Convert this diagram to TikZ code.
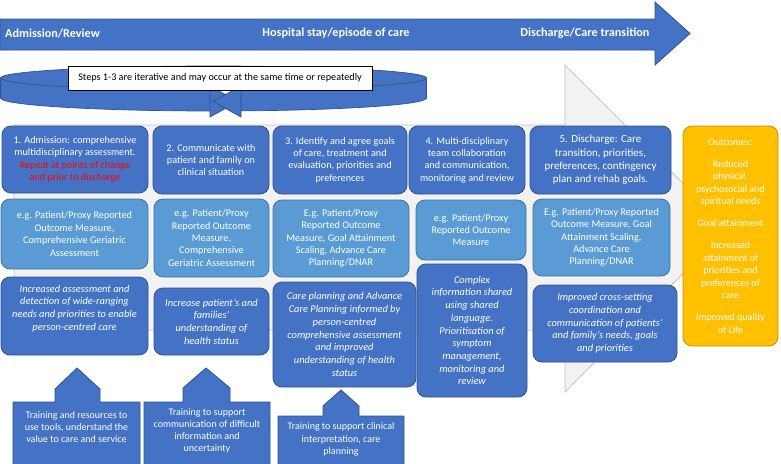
\documentclass[tikz,border=0pt]{standalone}
\usepackage{fontspec}
\setmainfont{Carlito}
\definecolor{cblue}{HTML}{4472C4}
\definecolor{cblueb}{HTML}{2F528F}
\definecolor{clight}{HTML}{5B9BD5}
\definecolor{clightb}{HTML}{41719C}
\definecolor{cgold}{HTML}{FFC000}
\definecolor{cgoldb}{HTML}{BF9000}
\definecolor{cgray}{HTML}{F2F2F2}
\definecolor{cgrayb}{HTML}{BFBFBF}
\definecolor{cred}{HTML}{FF0000}
\begin{document}
\begin{tikzpicture}[x=1pt,y=-1pt,
  base/.style={rounded corners=9pt, line width=0.8pt, text=white, align=center, inner sep=0pt,
    font=\fontsize{10.2}{12.4}\selectfont},
  sz/.style 2 args={minimum width=#1pt, minimum height=#2pt},
  dark/.style={base, fill=cblue, draw=cblueb},
  light/.style={base, fill=clight, draw=clightb},
  ital/.style={dark, font=\fontsize{10.4}{12.7}\selectfont\itshape},
  gold/.style={base, fill=cgold, draw=cgoldb},
  arrtxt/.style={text=white, inner sep=0pt, font=\fontsize{12.2}{14}\selectfont\bfseries},
  callout/.style={fill=cblue, draw=cblueb, line width=0.8pt},
  ctxt/.style={text=white, align=center, inner sep=0pt, font=\fontsize{10}{12.2}\selectfont},
  ringc/.style={fill=cblue, draw=cblueb, line width=0.7pt}
]
\useasboundingbox (0,0) rectangle (781,463);
\fill[white] (0,0) rectangle (781,463);

% background grey arrow
\draw[fill=cgray, draw=cgrayb, line width=0.7pt]
  (14,125) -- (565,125) -- (565,65) -- (728,228.5) -- (565,392) -- (565,330) -- (14,330) -- cycle;

% top blue arrow
\draw[fill=cblue, draw=cblueb, line width=0.8pt]
  (0,19) -- (655,19) -- (655,2) -- (690,33.5) -- (655,65) -- (655,50) -- (0,50) -- cycle;
\node[arrtxt, anchor=west] (t1) at (5,33) {Admission/Review};
\node[arrtxt] (t2) at (336,33) {Hospital stay/episode of care};
\node[arrtxt] (t3) at (585,33) {Discharge/Care transition};

% iterative ring
\fill[cblue] (213.5,78) ellipse [x radius=213, y radius=12];
\fill[cblue] (213.5,98) ellipse [x radius=213, y radius=13];
\fill[cblue] (0.5,78) rectangle (426.5,98);
\draw[cblueb, line width=0.7pt] (213.5,78) ellipse [x radius=213, y radius=12];
\draw[cblueb, line width=0.7pt] (426.5,98) arc[start angle=0, end angle=180, x radius=213, y radius=13];
\draw[cblueb, line width=0.7pt] (0.5,78) -- (0.5,98) (426.5,78) -- (426.5,98);
\begin{scope}
  \clip (213.5,78) ellipse [x radius=213, y radius=12];
  \filldraw[fill=white, draw=cblueb, line width=0.7pt] (213.5,98) ellipse [x radius=213, y radius=13];
\end{scope}
\fill[white] (212,91) rectangle (239,113);
\filldraw[ringc] (210,86) -- (210,117) -- (238,101.5) -- cycle;
\filldraw[ringc] (241,86) -- (241,117) -- (213,101.5) -- cycle;
\node[draw=black, fill=white, line width=0.6pt, minimum width=304pt, minimum height=24pt, inner sep=0pt,
  font=\fontsize{10.2}{12}\selectfont] (steps) at (220,78) {Steps 1-3 are iterative and may occur at the same time or repeatedly};

% row 1
\node[dark, sz={146}{67}] (r1c1) at (75,159.5) {1. Admission: comprehensive\\multidisciplinary assessment.\\\textcolor{cred}{Repeat at points of change}\\\textcolor{cred}{and prior to discharge}};
\node[dark, sz={116}{68}] (r1c2) at (211,160) {2. Communicate with\\patient and family on\\clinical situation};
\node[dark, sz={134}{68}] (r1c3) at (340,160) {3. Identify and agree goals\\of care, treatment and\\evaluation, priorities and\\preferences};
\node[dark, sz={116}{68}] (r1c4) at (467,160) {4. Multi-disciplinary\\team collaboration\\and communication,\\monitoring and review};
\node[dark, sz={141}{68}, font=\fontsize{11}{13.3}\selectfont] (r1c5) at (600.5,160) {5. Discharge: Care\\transition, priorities,\\preferences, contingency\\plan and rehab goals.};

% row 2
\node[light, sz={147}{70}] (r2c1) at (74.5,234) {e.g. Patient/Proxy Reported\\Outcome Measure,\\Comprehensive Geriatric\\Assessment};
\node[light, sz={115}{78}] (r2c2) at (211.5,238) {e.g. Patient/Proxy\\Reported Outcome\\Measure,\\Comprehensive\\Geriatric Assessment};
\node[light, sz={136}{77}] (r2c3) at (341,238.5) {E.g. Patient/Proxy\\Reported Outcome\\Measure, Goal Attainment\\Scaling, Advance Care\\Planning/DNAR};
\node[light, sz={110}{60}] (r2c4) at (471,230) {e.g. Patient/Proxy\\Reported Outcome\\Measure};
\node[light, sz={137}{77}] (r2c5) at (601.5,237.5) {E.g. Patient/Proxy Reported\\Outcome Measure, Goal\\Attainment Scaling,\\Advance Care\\Planning/DNAR};

% row 3
\node[ital, sz={147}{78}] (r3c1) at (74.5,316) {Increased assessment and\\detection of wide-ranging\\needs and priorities to enable\\person-centred care\\[4pt]};
\node[ital, sz={115}{67}] (r3c2) at (211.5,321.5) {Increase patient’s and\\families’\\understanding of\\health status};
\node[ital, sz={143}{105}] (r3c3) at (344.5,334.5) {Care planning and Advance\\Care Planning informed by\\person-centred\\comprehensive assessment\\and improved\\understanding of health\\status};
\node[ital, sz={110}{133}] (r3c4) at (472,330.5) {Complex\\information shared\\using shared\\language.\\Prioritisation of\\symptom\\management,\\monitoring and\\review};
\node[ital, sz={144}{77}] (r3c5) at (605,323.5) {Improved cross-setting\\coordination and\\communication of patients’\\and family’s needs, goals\\and priorities};

% outcomes
\node[gold, sz={95}{220}, font=\fontsize{10}{12.5}\selectfont] (out) at (730.5,236) {Outcomes:\\[9.5pt]Reduced\\physical,\\psychosocial and\\spiritual needs\\[9.5pt]Goal attainment\\[9.5pt]Increased\\attainment of\\priorities and\\preferences of\\care\\[9.5pt]Improved quality\\of Life};

% training callouts
\draw[callout] (13,466) -- (13,402) -- (55,402) -- (55,389) -- (77,368) -- (100,389) -- (100,402) -- (140,402) -- (140,466) -- cycle;
\node[ctxt] (c1) at (76.5,427) {Training and resources to\\use tools, understand the\\value to care and service};
\draw[callout] (144,466) -- (144,402) -- (183,402) -- (183,388) -- (206,368) -- (230,388) -- (230,402) -- (270,402) -- (270,466) -- cycle;
\node[ctxt] (c2) at (207,431) {Training to support\\communication of difficult\\information and\\uncertainty};
\draw[callout] (278,466) -- (278,416) -- (323,416) -- (323,406) -- (341,390) -- (359,406) -- (359,416) -- (404,416) -- (404,466) -- cycle;
\node[ctxt] (c3) at (341,439.5) {Training to support clinical\\interpretation, care\\planning};
\end{tikzpicture}
\end{document}
